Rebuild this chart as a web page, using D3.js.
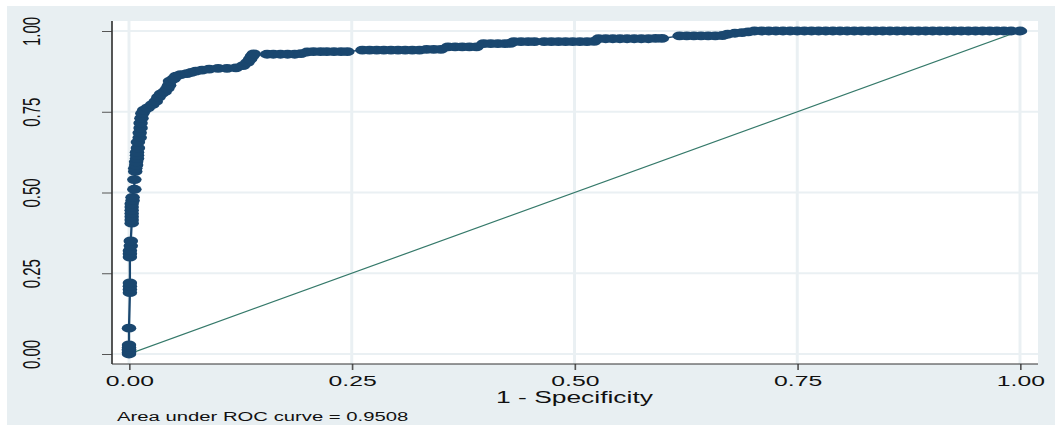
<!DOCTYPE html>
<html>
<head>
<meta charset="utf-8">
<script src="https://cdn.jsdelivr.net/npm/d3@7"></script>
<style>
  html, body { margin: 0; padding: 0; background: #fff; }
  svg { display: block; font-family: "Liberation Sans", Arial, sans-serif; }
</style>
</head>
<body>
<div id="roc-chart"></div>
<script>
// ROC points: [1 - specificity, sensitivity]
const rocPoints = [
  [0, 0], [0, 0.005], [0, 0.01], [0, 0.015], [0, 0.02], [0, 0.028], [0, 0.08],
  [0.001, 0.19], [0.001, 0.2], [0.001, 0.21], [0.001, 0.22],
  [0.001, 0.30], [0.001, 0.31], [0.001, 0.32], [0.002, 0.335], [0.002, 0.35],
  [0.003, 0.405], [0.003, 0.415], [0.003, 0.425], [0.003, 0.435], [0.003, 0.445],
  [0.003, 0.455], [0.003, 0.465], [0.004, 0.475], [0.004, 0.485],
  [0.006, 0.51], [0.006, 0.54],
  [0.007, 0.565], [0.007, 0.575], [0.008, 0.585], [0.008, 0.595], [0.009, 0.605],
  [0.009, 0.615], [0.009, 0.625], [0.010, 0.638], [0.010, 0.656],
  [0.012, 0.67], [0.012, 0.685], [0.013, 0.70], [0.013, 0.715], [0.014, 0.73],
  [0.015, 0.745], [0.017, 0.755],
  [0.021, 0.762], [0.026, 0.772], [0.030, 0.782], [0.033, 0.795], [0.036, 0.805],
  [0.040, 0.812], [0.043, 0.822], [0.045, 0.832], [0.046, 0.845], [0.050, 0.852],
  [0.053, 0.860], [0.058, 0.865], [0.065, 0.868], [0.070, 0.872], [0.075, 0.876],
  [0.082, 0.879], [0.090, 0.882], [0.100, 0.884], [0.110, 0.884], [0.120, 0.886],
  [0.128, 0.893], [0.133, 0.903], [0.136, 0.913], [0.138, 0.922], [0.140, 0.929],
  [0.155, 0.928], [0.162, 0.928], [0.170, 0.928], [0.178, 0.928], [0.186, 0.928],
  [0.193, 0.930], [0.200, 0.935], [0.207, 0.936], [0.215, 0.936], [0.222, 0.936],
  [0.230, 0.936], [0.238, 0.936], [0.245, 0.936],
  [0.262, 0.941], [0.270, 0.941], [0.278, 0.941], [0.286, 0.941], [0.294, 0.941],
  [0.302, 0.941], [0.310, 0.941], [0.318, 0.941], [0.326, 0.941],
  [0.334, 0.943], [0.342, 0.943], [0.350, 0.943],
  [0.358, 0.951], [0.366, 0.951], [0.374, 0.951], [0.382, 0.951], [0.390, 0.951],
  [0.398, 0.961], [0.406, 0.961], [0.414, 0.961], [0.422, 0.961], [0.428, 0.962],
  [0.432, 0.967], [0.440, 0.967], [0.448, 0.967], [0.455, 0.967],
  [0.466, 0.967], [0.474, 0.967], [0.482, 0.967], [0.490, 0.967], [0.498, 0.967],
  [0.506, 0.967], [0.514, 0.967], [0.522, 0.968],
  [0.527, 0.976], [0.535, 0.976], [0.543, 0.976], [0.551, 0.976], [0.559, 0.976],
  [0.567, 0.976], [0.575, 0.976], [0.583, 0.976], [0.591, 0.977], [0.598, 0.977],
  [0.618, 0.985], [0.626, 0.985], [0.634, 0.985], [0.642, 0.985], [0.650, 0.985],
  [0.658, 0.985], [0.666, 0.986], [0.672, 0.990], [0.680, 0.993], [0.688, 0.995],
  [0.695, 0.997],
  [0.702, 1], [0.710, 1], [0.718, 1], [0.726, 1], [0.734, 1], [0.742, 1], [0.750, 1],
  [0.758, 1], [0.766, 1], [0.774, 1], [0.782, 1], [0.790, 1], [0.798, 1], [0.806, 1],
  [0.814, 1], [0.822, 1], [0.830, 1], [0.838, 1], [0.846, 1], [0.854, 1], [0.862, 1],
  [0.870, 1], [0.878, 1], [0.886, 1], [0.894, 1], [0.902, 1], [0.910, 1], [0.918, 1],
  [0.926, 1], [0.934, 1], [0.942, 1], [0.950, 1], [0.958, 1], [0.966, 1], [0.974, 1],
  [0.982, 1], [0.990, 1], [1, 1]
];
const refLine = [[0, 0], [1, 1]];
const xTicks = [0, 0.25, 0.5, 0.75, 1];
const yTicks = [0, 0.25, 0.5, 0.75, 1];
const xTitle = "1 - Specificity";
const noteText = "Area under ROC curve = 0.9508";

const W = 1055, H = 425;
const SX = 1.65;            // the picture is stretched sideways
const px = v => v / SX;     // screen x -> inner x

const svg = d3.select("#roc-chart").append("svg")
  .attr("width", W).attr("height", H);

const g = svg.append("g").attr("transform", `scale(${SX},1)`);

// graph region + plot region
g.append("rect").attr("x", px(7)).attr("y", 6)
  .attr("width", px(W - 7)).attr("height", H - 6).attr("fill", "#e8eff2");
g.append("rect").attr("x", px(112)).attr("y", 21)
  .attr("width", px(1038 - 112)).attr("height", 364 - 21).attr("fill", "#fff");

const x = d3.scaleLinear().domain([0, 1]).range([px(129), px(1020)]);
const y = d3.scaleLinear().domain([0, 1]).range([354, 31]);

// grid
g.append("g").selectAll("line").data(yTicks).enter().append("line")
  .attr("x1", px(112)).attr("x2", px(1038)).attr("y1", d => y(d)).attr("y2", d => y(d))
  .attr("stroke", "#eaf0f3").attr("stroke-width", 1.8);
g.append("g").selectAll("line").data(xTicks).enter().append("line")
  .attr("x1", d => x(d)).attr("x2", d => x(d)).attr("y1", 21).attr("y2", 364)
  .attr("stroke", "#eaf0f3").attr("stroke-width", 1.8);

// axes
const yAxis = g.append("g").attr("transform", `translate(${px(112)},0)`)
  .call(d3.axisLeft(y).tickValues(yTicks).tickSize(px(10)).tickFormat(d3.format(".2f")));
yAxis.select(".domain").remove();
yAxis.selectAll(".tick line").attr("stroke", "#555").attr("stroke-width", 1);
yAxis.selectAll(".tick text")
  .attr("x", 0).attr("y", 0).attr("dy", 0)
  .attr("transform", `translate(${px(40) - px(112)},0) rotate(-90)`)
  .attr("text-anchor", "middle")
  .style("font-size", "15px").style("fill", "#111");

const xAxis = g.append("g").attr("transform", "translate(0,364)")
  .call(d3.axisBottom(x).tickValues(xTicks).tickSize(6).tickFormat(d3.format(".2f")));
xAxis.select(".domain").remove();
xAxis.selectAll(".tick line").attr("stroke", "#555").attr("stroke-width", 1);
xAxis.selectAll(".tick text").attr("y", 22).attr("dy", 0)
  .style("font-size", "15px").style("fill", "#111");

g.append("line").attr("x1", px(112)).attr("x2", px(112)).attr("y1", 21).attr("y2", 364)
  .attr("stroke", "#333").attr("stroke-width", 1);
g.append("line").attr("x1", px(112)).attr("x2", px(1038)).attr("y1", 364).attr("y2", 364)
  .attr("stroke", "#333").attr("stroke-width", 1);

// reference diagonal
g.append("path").datum(refLine)
  .attr("fill", "none").attr("stroke", "#35796a").attr("stroke-width", 1.1)
  .attr("d", d3.line().x(d => x(d[0])).y(d => y(d[1])));

// ROC curve
g.append("path").datum(rocPoints)
  .attr("fill", "none").attr("stroke", "#1a476f").attr("stroke-width", 1.4)
  .attr("d", d3.line().x(d => x(d[0])).y(d => y(d[1])));
g.append("g").selectAll("circle").data(rocPoints).enter().append("circle")
  .attr("cx", d => x(d[0])).attr("cy", d => y(d[1])).attr("r", 4.4)
  .attr("fill", "#1a476f");

// titles
g.append("text").attr("x", (x(0) + x(1)) / 2).attr("y", 403)
  .attr("text-anchor", "middle").style("font-size", "16px").style("fill", "#111")
  .text(xTitle);
g.append("text").attr("x", px(117)).attr("y", 421)
  .style("font-size", "12.3px").style("fill", "#111")
  .text(noteText);
</script>
</body>
</html>
